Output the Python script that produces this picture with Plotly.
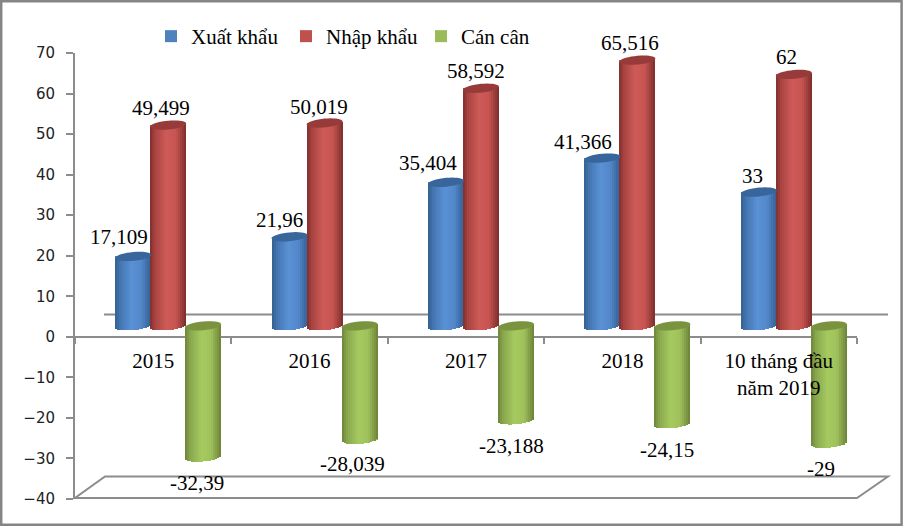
import math
import plotly.graph_objects as go

years = ["2015", "2016", "2017", "2018", "10 tháng đầu<br>năm 2019"]
xuat_khau = [17.109, 21.96, 35.404, 41.366, 33]
nhap_khau = [49.499, 50.019, 58.592, 65.516, 62]
can_can = [-32.39, -28.039, -23.188, -24.15, -29]
xk_labels = ["17,109", "21,96", "35,404", "41,366", "33"]
nk_labels = ["49,499", "50,019", "58,592", "65,516", "62"]
cc_labels = ["-32,39", "-28,039", "-23,188", "-24,15", "-29"]

# Geometry and style
W, H = 903, 526
ML, MR, MT, MB = 75, 46, 53, 27
PW, PH = W - ML - MR, H - MT - MB
CAT = PW / 5
UY = PH / 110
DEPTH = 11 / UY
CYL = 36
RY = 4.4 / UY
TILT = 1.6 / UY
SLICES = 18
GRAY = "#8c8c8c"
SERIF = "Liberation Serif"

def px(xp):
    return (xp - ML) / PW

def py(yp):
    return 1 - (yp - MT) / PH

def hexrgb(h):
    return [int(h[i:i + 2], 16) for i in (1, 3, 5)]

def ramp(stops, t):
    for (t0, c0), (t1, c1) in zip(stops, stops[1:]):
        if t <= t1:
            f = (t - t0) / (t1 - t0)
            a, b = hexrgb(c0), hexrgb(c1)
            return "rgb(%d,%d,%d)" % tuple(a[i] + (b[i] - a[i]) * f for i in range(3))
    return stops[-1][1]

series = [
    dict(name="Xuất khẩu", vals=xuat_khau, labels=xk_labels, dx=-20, base="#4F81BD", cap="#38659A",
         stops=[(0, "#32608F"), (0.14, "#4375B0"), (0.45, "#5A92D6"), (0.72, "#5489CB"), (1, "#335F94")],
         lx=[-14, -10, -18, -19, -6], ly=[19, 16.5, 19, 16.5, 16.5]),
    dict(name="Nhập khẩu", vals=nhap_khau, labels=nk_labels, dx=15, base="#C0504D", cap="#963B39",
         stops=[(0, "#7E2F2D"), (0.14, "#A94442"), (0.45, "#CE5B58"), (0.72, "#C85552"), (1, "#7C2E2C")],
         lx=[-7, -6, -5, -7, -7], ly=[17.5, 16.5, 17.5, 17.5, 17]),
    dict(name="Cán cân", vals=can_can, labels=cc_labels, dx=50, base="#9BBB59", cap="#79933F",
         stops=[(0, "#6E8539"), (0.14, "#8AA74E"), (0.45, "#A6CA60"), (0.72, "#A0C25C"), (1, "#6C8238")],
         lx=[-6, -7, -5, -5, -8], ly=[-26, -24, -26, -26, -26]),
]

xs = list(range(len(years)))
fig = go.Figure()
shapes = []
annotations = []

# Floor, back line and frame
shapes.append(dict(type="path", xref="paper", yref="paper", layer="below",
                   path=f"M {px(75)} {py(498)} L {px(857)} {py(498)} L {px(888)} {py(476.5)} L {px(105)} {py(476.5)} Z",
                   line=dict(color=GRAY, width=2), fillcolor="rgba(0,0,0,0)"))
shapes.append(dict(type="line", xref="paper", yref="paper", layer="below",
                   x0=px(104), x1=px(888), y0=py(314.5), y1=py(314.5),
                   line=dict(color=GRAY, width=2)))
shapes.append(dict(type="rect", xref="paper", yref="paper", layer="below",
                   x0=px(1.2), x1=px(901.6), y0=py(1.2), y1=py(524.8),
                   line=dict(color="#858585", width=2.5), fillcolor="rgba(0,0,0,0)"))

for s in series:
    wu = CYL / CAT
    off = s["dx"] / CAT
    positive = s["vals"][0] > 0
    ends = [v + DEPTH for v in s["vals"]]
    fig.add_trace(go.Bar(
        x=xs, y=s["vals"], base=[DEPTH] * 5, name=s["name"],
        width=wu, offset=off - wu / 2,
        marker=dict(color=s["base"], line=dict(width=0)),
        hoverinfo="skip", showlegend=True))
    for k in range(SLICES):
        t = (k + 0.5) / SLICES
        sag = RY * math.sqrt(1 - (2 * t - 1) ** 2)
        lean = TILT * (2 * t - 1)
        if positive:
            bases = [DEPTH - sag + lean] * 5
            ys = [v + DEPTH + lean - b for v, b in zip(s["vals"], bases)]
        else:
            bases = [DEPTH + lean] * 5
            ys = [v + DEPTH + lean - sag - b for v, b in zip(s["vals"], bases)]
        fig.add_trace(go.Bar(
            x=xs, y=ys, base=bases, width=wu / SLICES,
            offset=off - wu / 2 + k * wu / SLICES,
            marker=dict(color=ramp(s["stops"], t), line=dict(width=0)),
            hoverinfo="skip", showlegend=False))
    for i, v in enumerate(s["vals"]):
        cx = xs[i] + off
        top = DEPTH if v < 0 else ends[i]
        pts = []
        for a in range(36):
            ang = 2 * math.pi * a / 36
            pts.append((cx + wu / 2 * math.cos(ang),
                        top + RY * math.sin(ang) + TILT * math.cos(ang)))
        path = "M " + " L ".join(f"{p[0]:.4f} {p[1]:.4f}" for p in pts) + " Z"
        shapes.append(dict(type="path", xref="x", yref="y", layer="above", path=path,
                           fillcolor=s["cap"], line=dict(width=0)))
        annotations.append(dict(x=cx, y=ends[i], xref="x", yref="y", text=s["labels"][i],
                                showarrow=False, xanchor="center", yanchor="middle",
                                xshift=s["lx"][i], yshift=s["ly"][i],
                                font=dict(family=SERIF, size=21, color="#000")))

boundaries = [i - 0.5 for i in range(len(years) + 1)]
fig.update_layout(
    width=W, height=H, autosize=False,
    margin=dict(l=ML, r=MR, t=MT, b=MB, pad=0),
    paper_bgcolor="white", plot_bgcolor="white",
    barmode="overlay", bargap=0,
    font=dict(family=SERIF, size=21, color="#000"),
    shapes=shapes, annotations=annotations,
    legend=dict(orientation="h", x=px(151), y=py(16), xanchor="left", yanchor="top",
                entrywidth=90, entrywidthmode="pixels", traceorder="normal",
                bgcolor="rgba(0,0,0,0)", font=dict(family=SERIF, size=21, color="#000"),
                itemclick=False, itemdoubleclick=False),
    xaxis=dict(range=[-0.5, 4.5], anchor="free", position=40 / 110, showgrid=False,
               zeroline=False, showline=False, tickmode="array", tickvals=xs, ticktext=years,
               ticks="", ticklabelstandoff=9, tickangle=0,
               tickfont=dict(family=SERIF, size=21, color="#000"),
               minor=dict(tickmode="array", tickvals=boundaries, ticks="outside",
                          ticklen=6, tickwidth=2, tickcolor=GRAY, showgrid=False)),
    yaxis=dict(range=[-40, 70], tickmode="array", tickvals=list(range(-40, 71, 10)),
               showgrid=False, zeroline=True, zerolinecolor=GRAY, zerolinewidth=2,
               showline=True, linecolor=GRAY, linewidth=2, ticks="outside", ticklen=7,
               tickwidth=2, tickcolor=GRAY, ticklabelstandoff=8,
               tickfont=dict(family="DejaVu Sans", size=15, color="#222")),
)

fig.write_html("out.html", config=dict(displayModeBar=False),
               post_script="document.body.style.margin='0';document.body.style.overflow='hidden';")
